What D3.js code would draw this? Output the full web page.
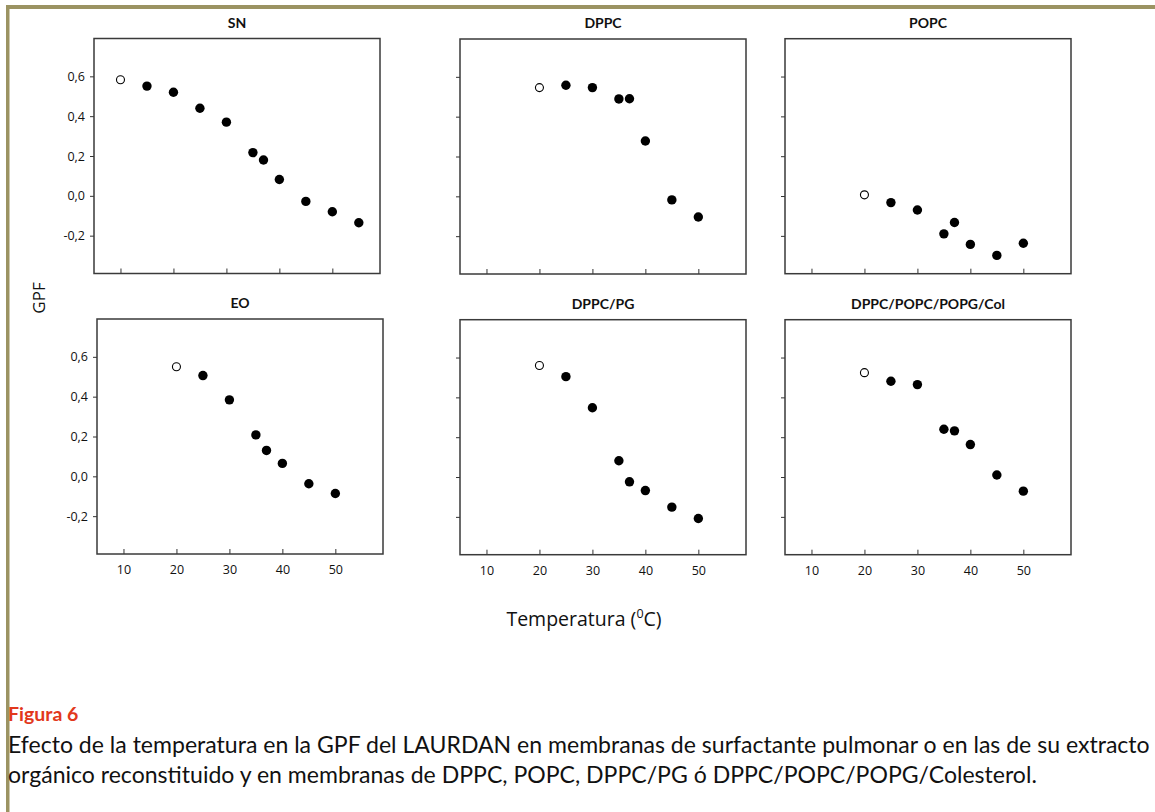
<!DOCTYPE html>
<html>
<head>
<meta charset="utf-8">
<script src="https://cdn.jsdelivr.net/npm/d3@7"></script>
<style>
  body { margin: 0; background: #fff; }
  svg text { fill: #111; }
</style>
</head>
<body>
<svg id="fig" width="1155" height="812"></svg>
<script>
// temperatures (ºC)
const temps = [20, 25, 30, 35, 37, 40, 45, 50];
const snTemps = [10, 15, 20, 25, 30, 35, 37, 40, 45, 50, 55];

// GPF values, first point of each series is the open symbol
const gpfSN = [0.583, 0.551, 0.52, 0.44, 0.37, 0.217, 0.18, 0.082, -0.028, -0.08, -0.135];
const gpfDPPC = [0.546, 0.558, 0.546, 0.489, 0.49, 0.278, -0.018, -0.104];
const gpfPOPC = [0.006, -0.033, -0.07, -0.19, -0.133, -0.243, -0.298, -0.237];
const gpfEO = [0.55, 0.506, 0.384, 0.208, 0.13, 0.065, -0.037, -0.086];
const gpfDPPCPG = [0.56, 0.504, 0.348, 0.082, -0.024, -0.068, -0.151, -0.208];
const gpfMix = [0.524, 0.481, 0.464, 0.24, 0.232, 0.163, 0.01, -0.071];

const panelTitles = ["SN", "DPPC", "POPC", "EO", "DPPC/PG", "DPPC/POPC/POPG/Col"];
const xTicks = [10, 20, 30, 40, 50];
const yTicks = [-0.2, 0, 0.2, 0.4, 0.6];

const captionTitle = "Figura 6";
const captionLines = [
  "Efecto de la temperatura en la GPF del LAURDAN en membranas de surfactante pulmonar o en las de su extracto",
  "orgánico reconstituido y en membranas de DPPC, POPC, DPPC/PG ó DPPC/POPC/POPG/Colesterol."
];

const panels = [
  { title: panelTitles[0], t: snTemps, v: gpfSN },
  { title: panelTitles[1], t: temps, v: gpfDPPC },
  { title: panelTitles[2], t: temps, v: gpfPOPC },
  { title: panelTitles[3], t: temps, v: gpfEO },
  { title: panelTitles[4], t: temps, v: gpfDPPCPG },
  { title: panelTitles[5], t: temps, v: gpfMix },
];

const svg = d3.select("#fig");
const W = 1155, H = 812;
svg.append("rect").attr("width", W).attr("height", H).attr("fill", "#fff");

// olive frame (top + left)
svg.append("rect").attr("x", 6).attr("y", 5).attr("width", W).attr("height", 4).attr("fill", "#9b9362");
svg.append("rect").attr("x", 6).attr("y", 5).attr("width", 3.5).attr("height", H).attr("fill", "#9b9362");

// panel origins (left, top) as in the original page
const panelLeft = [94, 460, 785, 97, 460, 785];
const panelTop = [38.5, 39, 38.7, 319, 319.7, 319.7];
const PW = 286, PH = 235;

const loc = d3.formatLocale({ decimal: ",", thousands: ".", grouping: [3], currency: ["", ""], minus: "-" });
const fmt = loc.format(".1f");

const tickFont = "'Open Sans', 'DejaVu Sans', sans-serif";
const textFont = "Lato, 'Open Sans', sans-serif";

panels.forEach((p, i) => {
  const col = i % 3, row = Math.floor(i / 3);
  const g = svg.append("g").attr("transform", `translate(${panelLeft[i]},${panelTop[i]})`);

  const x = d3.scaleLinear().domain([5, 59]).range([0, PW]);
  const y = d3.scaleLinear().domain([-0.39, 0.79]).range([PH, 0]);

  const yAxis = d3.axisLeft(y).tickValues(yTicks).tickSizeInner(4).tickSizeOuter(0).tickPadding(5)
    .tickFormat(col === 0 ? fmt : "");
  const ya = g.append("g").call(yAxis);
  ya.select(".domain").remove();
  ya.selectAll("line").attr("stroke", "#333");
  ya.selectAll("text").attr("font-family", tickFont).attr("font-size", 12.5).attr("fill", "#111");

  const xAxis = d3.axisBottom(x).tickValues(xTicks).tickSizeInner(-5).tickSizeOuter(0).tickPadding(11)
    .tickFormat(row === 1 ? d3.format("d") : "");
  const xa = g.append("g").attr("transform", `translate(0,${PH})`).call(xAxis);
  xa.select(".domain").remove();
  xa.selectAll("line").attr("stroke", "#333");
  xa.selectAll("text").attr("font-family", tickFont).attr("font-size", 12.5).attr("fill", "#111");

  g.append("rect").attr("width", PW).attr("height", PH)
    .attr("fill", "none").attr("stroke", "#3a3a3a").attr("stroke-width", 1.5);

  g.append("text").attr("x", PW / 2).attr("y", -11).attr("text-anchor", "middle")
    .attr("font-family", textFont).attr("font-weight", "bold").attr("font-size", 14)
    .text(p.title);

  const pts = p.t.map((t, k) => ({ t, v: p.v[k], open: k === 0 }));
  g.selectAll("circle.pt").data(pts).enter().append("circle")
    .attr("class", "pt")
    .attr("cx", (d) => x(d.t))
    .attr("cy", (d) => y(d.v))
    .attr("r", (d) => (d.open ? 4 : 4.7))
    .attr("fill", (d) => (d.open ? "#fff" : "#000"))
    .attr("stroke", "#000")
    .attr("stroke-width", (d) => (d.open ? 1.1 : 0));
});

// axis titles
svg.append("text").attr("transform", "translate(45,298) rotate(-90)")
  .attr("text-anchor", "middle").attr("font-family", tickFont).attr("font-size", 17)
  .text("GPF");

const xt = svg.append("text").attr("x", 584).attr("y", 626).attr("text-anchor", "middle")
  .attr("font-family", tickFont).attr("font-size", 19.5);
xt.append("tspan").text("Temperatura (");
xt.append("tspan").attr("font-size", 12.5).attr("dy", -8).text("0");
xt.append("tspan").attr("dy", 8).text("C)");

// caption
svg.append("text").attr("x", 8).attr("y", 721)
  .attr("font-family", textFont).attr("font-weight", "bold").attr("font-size", 19.5)
  .style("fill", "#e2381c").text(captionTitle);

const capLines = captionLines.map((line, k) =>
  svg.append("text").attr("x", 8).attr("y", 753 + k * 30)
    .attr("font-family", textFont).attr("font-size", 19).text(line));
// fit the first line to the page width, second line takes the same size
const w0 = capLines[0].node().getComputedTextLength();
const capSize = w0 > 0 ? 19 * 1142 / w0 : 19;
capLines.forEach((t) => t.attr("font-size", capSize));
</script>
</body>
</html>
